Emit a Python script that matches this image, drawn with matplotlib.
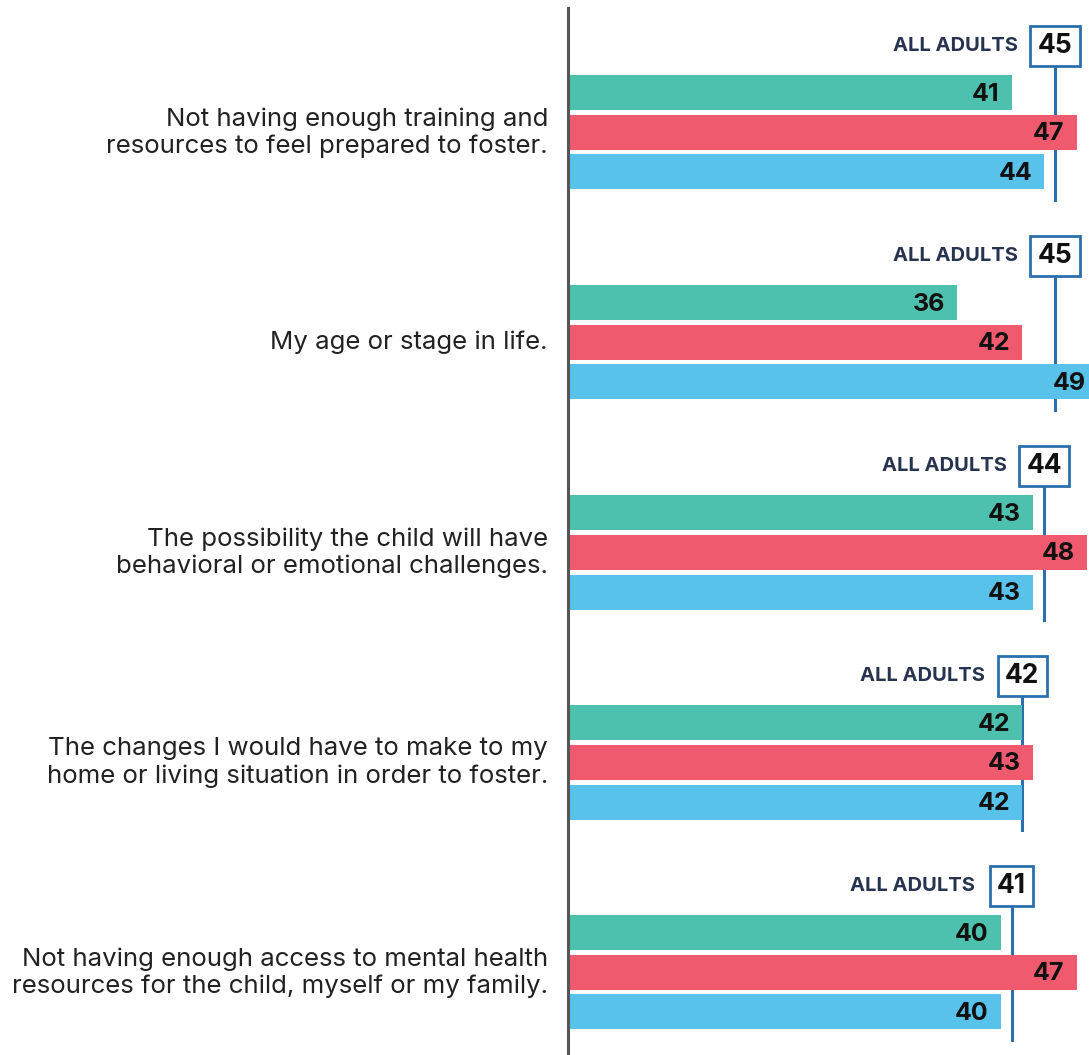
import matplotlib
matplotlib.use("Agg")
import matplotlib.pyplot as plt

plt.rcParams["font.family"] = ["Inter", "DejaVu Sans"]

categories = [
    "Not having enough training and\nresources to feel prepared to foster.",
    "My age or stage in life.",
    "The possibility the child will have\nbehavioral or emotional challenges.",
    "The changes I would have to make to my\nhome or living situation in order to foster.",
    "Not having enough access to mental health\nresources for the child, myself or my family.",
]
teal_vals = [41, 36, 43, 42, 40]
red_vals = [47, 42, 48, 43, 47]
blue_vals = [44, 49, 43, 42, 40]
all_adults = [45, 45, 44, 42, 41]

TEAL, RED, BLUE = "#4dc1ad", "#f05a6e", "#58c2ea"
LINE = "#2a6fae"
NAVY = "#283350"

W, H = 1089, 1055
fig = plt.figure(figsize=(W / 100, H / 100), dpi=100)
x0 = 567.5
scale = 10.83
ax = fig.add_axes([x0 / W, 0, (W - x0) / W, 1])
ax.set_xlim(0, (W - x0) / scale)
pitch = 210.0
ax.set_ylim((H - 132.5) / pitch, -132.5 / pitch)
ax.axis("off")

bh = 35 / pitch
off = 39.5 / pitch
for i, cat in enumerate(categories):
    for dy, val, col in [(-off, teal_vals[i], TEAL), (0, red_vals[i], RED), (off, blue_vals[i], BLUE)]:
        ax.barh(i + dy, val, height=bh, color=col, zorder=2)
        ax.text(val - 12 / scale, i + dy + 0.005, str(val), ha="right", va="center",
                fontsize=18, fontweight="bold", color="#111111", zorder=4)
    # all adults marker
    a = all_adults[i]
    ax.plot([a, a], [i - 0.33, i + 0.32], color=LINE, lw=2.2, zorder=1)
    ax.text(a, i - 0.412, str(a), ha="center", va="center", fontsize=19,
            fontweight="bold", color="#111111", zorder=5,
            bbox=dict(boxstyle="square,pad=0.28", fc="white", ec=LINE, lw=2))
    ax.text(a - 37 / scale, i - 0.412, "ALL ADULTS", ha="right", va="center",
            fontsize=14.5, fontweight="bold", color=NAVY, zorder=5)
    fig.text(548 / W, 1 - (132.5 + pitch * i) / H, cat, ha="right", va="center",
             fontsize=18.6, color="#222222", linespacing=1.2)

# vertical baseline
ax.plot([0, 0], [-(132.5 - 8) / pitch, (H - 132.5) / pitch], color="#555555",
        lw=2.2, zorder=6, clip_on=False)

fig.savefig("out.png", dpi=100)
